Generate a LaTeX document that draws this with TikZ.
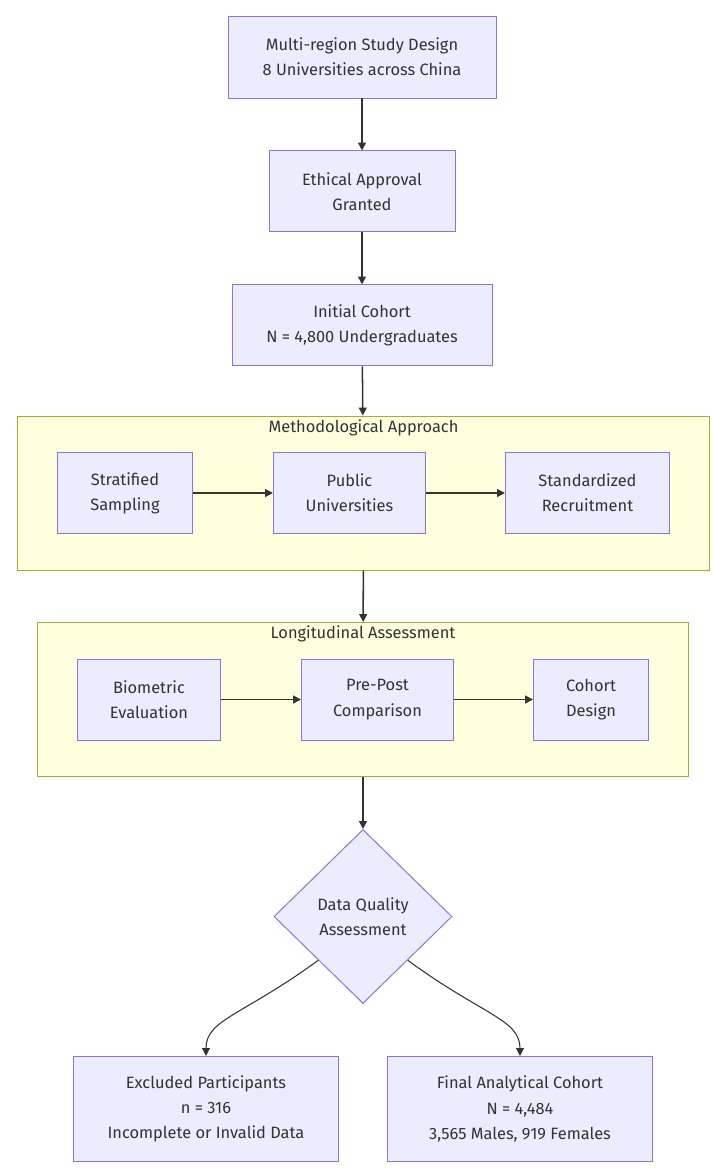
\documentclass[tikz,border=0pt]{standalone}
\usepackage{fontspec}
\setmainfont{Fira Sans}
\usepackage{xcolor}
\usetikzlibrary{arrows.meta,positioning,shapes.geometric,fit,backgrounds}
\definecolor{boxfill}{HTML}{ECECFF}
\definecolor{boxline}{HTML}{9370DB}
\definecolor{grpfill}{HTML}{FFFFDE}
\definecolor{grpline}{HTML}{AAAA33}
\definecolor{ink}{HTML}{333333}

\begin{document}
\begin{tikzpicture}[
  >={Triangle[length=6.8pt,width=6.8pt]},
  node distance=1.56cm and 2.4cm,
  every node/.style={font=\fontsize{14}{21.5}\selectfont,text=ink},
  box/.style={draw=boxline,fill=boxfill,line width=0.85pt,align=center,
              minimum height=2.43cm,inner sep=2pt},
  group/.style={draw=grpline,fill=grpfill,line width=0.85pt,
                inner xsep=1.2cm,inner ysep=1.08cm},
  grouplbl/.style={anchor=north,inner sep=3pt},
  decision/.style={diamond,draw=boxline,fill=boxfill,line width=0.85pt,
                   minimum width=5.34cm,minimum height=5.22cm,align=center,
                   inner sep=0pt},
  flow/.style={draw=ink,line width=1.3pt,->},
  branch/.style={draw=ink,line width=0.9pt,->}
]
\useasboundingbox (0,0) rectangle (21.42,-35.16);

% main column
\node[box,minimum width=8.04cm,minimum height=2.46cm] (design) at (10.86,-1.71)
     {Multi-region Study Design\\8 Universities across China};
\node[box,minimum width=5.58cm,below=of design] (ethics) {Ethical Approval\\Granted};
\node[box,minimum width=7.8cm,below=of ethics]  (cohort) {Initial Cohort\\N = 4,800 Undergraduates};

% first group
\node[box,minimum width=4.05cm,anchor=west] (strat) at (1.71,-14.79) {Stratified\\Sampling};
\node[box,minimum width=4.56cm,right=of strat]        (public) {Public\\Universities};
\node[box,minimum width=4.92cm,right=2.37cm of public] (stdrec) {Standardized\\Recruitment};
\begin{scope}[on background layer]
  \node[group,fit=(strat)(public)(stdrec)] (methods) {};
\end{scope}
\node[grouplbl] (methodslbl) at (methods.north) {Methodological Approach};

% second group
\node[box,minimum width=4.29cm,anchor=west] (biom) at (2.31,-20.985) {Biometric\\Evaluation};
\node[box,minimum width=4.56cm,right=of biom]           (prepost) {Pre-Post\\Comparison};
\node[box,minimum width=3.45cm,right=2.37cm of prepost] (cohdes)  {Cohort\\Design};
\begin{scope}[on background layer]
  \node[group,fit=(biom)(prepost)(cohdes)] (longit) {};
\end{scope}
\node[grouplbl] (longitlbl) at (longit.north) {Longitudinal Assessment};

% decision and outcomes
\node[decision,below=of longit] (quality) {Data Quality\\Assessment};
\node[box,minimum width=7.95cm,minimum height=3.15cm,below=of quality,xshift=-4.71cm] (excluded)
     {Excluded Participants\\n = 316\\Incomplete or Invalid Data};
\node[box,minimum width=7.95cm,minimum height=3.15cm,below=of quality,xshift=4.71cm]  (final)
     {Final Analytical Cohort\\N = 4,484\\3,565 Males, 919 Females};

\draw[flow] (design) -- (ethics);
\draw[flow] (ethics) -- (cohort);
\draw[flow] (cohort) -- (methods);
\draw[flow] (strat)  -- (public);
\draw[flow] (public) -- (stdrec);
\draw[flow] (methods) -- (longit);
\draw[flow] (biom)    -- (prepost);
\draw[flow] (prepost) -- (cohdes);
\draw[flow] (longit)  -- (quality);
\draw[branch] (quality.south west) .. controls +(-2.25,-1.65) and +(0,1.1) .. (excluded.north);
\draw[branch] (quality.south east) .. controls +(2.25,-1.65) and +(0,1.1) .. (final.north);
\end{tikzpicture}
\end{document}
